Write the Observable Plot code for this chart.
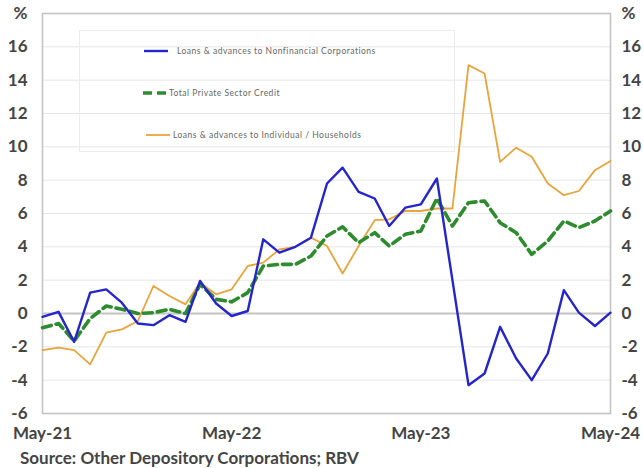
<!DOCTYPE html>
<html>
<head>
<meta charset="utf-8">
<script src="https://cdn.jsdelivr.net/npm/d3@7"></script>
<script src="https://cdn.jsdelivr.net/npm/@observablehq/plot@0.6"></script>
<style>
  html, body { margin: 0; padding: 0; background: #fff; }
  #wrap { position: relative; width: 643px; }
  #legend {
    position: absolute; left: 79px; top: 30px; width: 376px; height: 122px;
    border: 1px solid #ececec; box-sizing: border-box;
    font-family: Lato, "Open Sans", sans-serif; font-size: 8.5px; letter-spacing: 0.5px; color: #666;
  }
  .item { position: absolute; display: flex; align-items: center; white-space: nowrap; }
  .item svg { display: block; margin-right: 4px; }
  #source {
    font-family: Lato, "Open Sans", sans-serif; font-weight: 700; font-size: 17px;
    color: #444; padding-left: 20px; line-height: 20px; margin-top: 3px;
  }
</style>
</head>
<body>
<div id="wrap">
  <div id="chart"></div>
  <div id="legend"></div>
  <div id="source">Source: Other Depository Corporations; RBV</div>
</div>
<script>
// Monthly annual growth rates, May 2021 to May 2024 (%)
const months = d3.utcMonth.range(new Date(Date.UTC(2021, 4, 1)), new Date(Date.UTC(2024, 5, 1)));

const nonfinancialCorps = [
  -0.2, 0.1, -1.7, 1.25, 1.45, 0.65, -0.6, -0.7, -0.1, -0.5, 1.95, 0.6,
  -0.15, 0.15, 4.45, 3.65, 4.0, 4.55, 7.8, 8.75, 7.3, 6.9, 5.25, 6.35,
  6.55, 8.1, 2.0, -4.3, -3.6, -0.8, -2.7, -4.0, -2.4, 1.4, 0.05, -0.75,
  0.05
];
const privateSectorCredit = [
  -0.85, -0.6, -1.65, -0.3, 0.45, 0.25, 0.0, 0.05, 0.25, 0.0, 1.75, 0.85,
  0.7, 1.25, 2.85, 2.95, 2.95, 3.45, 4.65, 5.2, 4.25, 4.85, 4.05, 4.75,
  4.95, 6.9, 5.25, 6.65, 6.75, 5.45, 4.85, 3.55, 4.35, 5.55, 5.15, 5.55,
  6.15
];
const households = [
  -2.2, -2.05, -2.2, -3.05, -1.15, -0.95, -0.45, 1.65, 1.05, 0.55, 1.85, 1.15,
  1.45, 2.85, 3.05, 3.85, 4.0, 4.55, 4.05, 2.4, 4.05, 5.6, 5.65, 6.15,
  6.15, 6.3, 6.3, 14.9, 14.4, 9.1, 9.95, 9.4, 7.8, 7.1, 7.35, 8.6,
  9.15
];

const seriesNames = [
  "Loans & advances to Nonfinancial Corporations",
  "Total Private Sector Credit",
  "Loans & advances to Individual / Households"
];
const yTicks = [-6, -4, -2, 0, 2, 4, 6, 8, 10, 12, 14, 16, 18];
const xTicks = [0, 12, 24, 36].map(i => months[i]);

const colors = ["#2525cc", "#2e8b2e", "#e9a43c"];

const rows = (values) => values.map((v, i) => ({date: months[i], value: v}));
const yFormat = d => d === 18 ? "%" : String(d);

const chart = Plot.plot({
  width: 643,
  height: 445,
  marginLeft: 42,
  marginRight: 33,
  marginTop: 13,
  marginBottom: 32,
  style: {fontFamily: "Lato, 'Open Sans', sans-serif", fontSize: "17px", fontWeight: 700, color: "#444", background: "#fff"},
  x: {type: "utc", domain: [months[0], months[36]]},
  y: {domain: [-6, 18]},
  marks: [
    Plot.gridY(yTicks, {stroke: "#e6e6e6", strokeOpacity: 1}),
    Plot.ruleY([0], {stroke: "#c4c4c4", strokeWidth: 2.2}),
    Plot.frame({stroke: "#c4c4c4", strokeWidth: 1.6}),
    Plot.axisY(yTicks, {anchor: "left", tickSize: 0, tickPadding: 15, tickFormat: yFormat, label: null}),
    Plot.axisY(yTicks, {anchor: "right", tickSize: 0, tickPadding: 11, tickFormat: yFormat, label: null}),
    Plot.axisX(xTicks, {tickSize: 0, tickPadding: 13, tickFormat: d3.utcFormat("%b-%y"), label: null}),
    Plot.line(rows(households), {x: "date", y: "value", stroke: colors[2], strokeWidth: 1.8}),
    Plot.line(rows(privateSectorCredit), {x: "date", y: "value", stroke: colors[1], strokeWidth: 3.6, strokeDasharray: "9,5"}),
    Plot.line(rows(nonfinancialCorps), {x: "date", y: "value", stroke: colors[0], strokeWidth: 2.4})
  ]
});
document.getElementById("chart").append(chart);

// Legend box with line samples
const legend = d3.select("#legend");
const styles = [
  {width: 2.4, dash: null, left: 63, top: 20, gap: 8},
  {width: 3.6, dash: "9,5", left: 62, top: 62, gap: 1},
  {width: 1.8, dash: null, left: 65, top: 104, gap: 2}
];
seriesNames.forEach((name, i) => {
  const s = styles[i];
  const item = legend.append("div").attr("class", "item")
    .style("left", s.left + "px").style("top", (s.top - 6) + "px");
  const svg = item.append("svg").attr("width", 26).attr("height", 12)
    .style("margin-right", s.gap + "px");
  svg.append("line").attr("x1", 1).attr("x2", 25).attr("y1", 6).attr("y2", 6)
    .attr("stroke", colors[i]).attr("stroke-width", s.width)
    .attr("stroke-dasharray", s.dash);
  item.append("span").text(name);
});
</script>
</body>
</html>
